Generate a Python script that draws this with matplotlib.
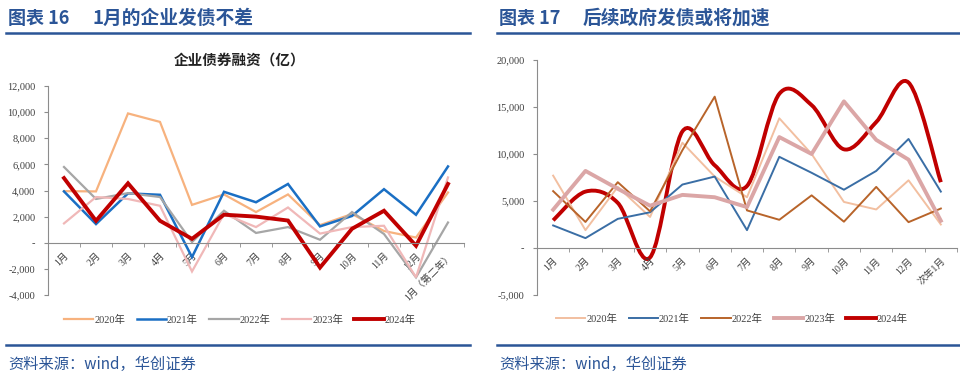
import numpy as np
import matplotlib.pyplot as plt
from matplotlib.lines import Line2D
from matplotlib.path import Path
from matplotlib.patches import PathPatch

# ---- data: chart 16 (corporate bond financing, 100m yuan) ----
left_months = ["1月", "2月", "3月", "4月", "5月", "6月", "7月", "8月",
               "9月", "10月", "11月", "12月", "1月（第二年）"]
left_2020 = [3950, 3930, 9900, 9250, 2900, 3700, 2350, 3700, 1350, 2200, 900, 400, 3850]
left_2021 = [3930, 1430, 3780, 3670, -1100, 3900, 3100, 4500, 1250, 2050, 4100, 2140, 5840]
left_2022 = [5800, 3350, 3800, 3500, 50, 2450, 750, 1200, 230, 2350, 670, -2650, 1550]
left_2023 = [1480, 3500, 3350, 2830, -2200, 2200, 1200, 2700, 700, 1200, 1300, -2650, 5000]
left_2024 = [4950, 1680, 4550, 1680, 300, 2150, 2000, 1700, -1900, 1070, 2450, -230, 4500]

# ---- data: chart 17 (government bond financing) ----
right_months = ["1月", "2月", "3月", "4月", "5月", "6月", "7月", "8月",
                "9月", "10月", "11月", "12月", "次年1月"]
right_2020 = [7700, 1900, 6500, 3300, 11200, 7600, 5400, 13800, 10000, 4900, 4100, 7200, 2500]
right_2021 = [2400, 1050, 3100, 3800, 6750, 7600, 1900, 9700, 8000, 6200, 8200, 11600, 6000]
right_2022 = [6050, 2770, 7000, 3900, 10400, 16100, 4000, 3000, 5600, 2800, 6500, 2750, 4200]
right_2023 = [4080, 8200, 6300, 4500, 5650, 5400, 4350, 11800, 10000, 15600, 11500, 9400, 2900]
right_2024 = [2940, 6000, 4800, -1000, 12400, 8800, 6600, 16400, 15200, 10500, 13400, 17600, 7000]

years = ["2020年", "2021年", "2022年", "2023年", "2024年"]

BLUE = "#2b5597"
AXIS = "#8c8c8c"
TXT = "#404040"
CJK = ["Liberation Serif", "Noto Sans CJK SC"]


def smooth_path(xs, ys):
    """Excel-like smoothed line as cubic bezier path"""
    xs = np.asarray(xs, float)
    ys = np.asarray(ys, float)
    n = len(xs)
    verts = [(xs[0], ys[0])]
    codes = [Path.MOVETO]
    for i in range(n - 1):
        p0 = i - 1 if i > 0 else i
        p3 = i + 2 if i + 2 < n else i + 1
        c1 = (xs[i] + (xs[i + 1] - xs[p0]) / 6, ys[i] + (ys[i + 1] - ys[p0]) / 6)
        c2 = (xs[i + 1] - (xs[p3] - xs[i]) / 6, ys[i + 1] - (ys[p3] - ys[i]) / 6)
        verts += [c1, c2, (xs[i + 1], ys[i + 1])]
        codes += [Path.CURVE4] * 3
    return Path(verts, codes)


def fmt(v):
    return "-" if v == 0 else f"{v:,.0f}"


def style_axes(ax, labels, yticks, ylim):
    n = len(labels)
    ax.set_xlim(-0.5, n - 0.5)
    ax.set_ylim(*ylim)
    for s in ["top", "right"]:
        ax.spines[s].set_visible(False)
    ax.spines["bottom"].set_position(("data", 0))
    ax.spines["bottom"].set_color(AXIS)
    ax.spines["left"].set_color(AXIS)
    ax.set_yticks(yticks)
    ax.set_yticklabels([fmt(v) for v in yticks], family="Liberation Serif",
                       fontsize=7.5, color=TXT)
    ax.tick_params(axis="y", length=3, color=AXIS, pad=6)
    ax.set_xticks(range(n))
    ax.set_xticklabels(labels, rotation=45, ha="right", va="top",
                       rotation_mode="anchor", family=CJK, fontsize=7, color=TXT)
    ax.set_xticks(np.arange(-0.5, n, 1), minor=True)
    ax.tick_params(axis="x", which="major", length=0, pad=6)
    ax.tick_params(axis="x", which="minor", length=3, color=AXIS)
    ax.set_facecolor("none")


def panel_frame(fig, x0, x1, tag, title):
    y = 1 - 18 / 386
    fig.text(x0 + 0.002, y, tag, family=["Noto Sans CJK SC"],
             fontweight="bold", fontsize=13, color=BLUE, va="center")
    fig.text(x0 + 86 / 960, y, title, family=["Noto Sans CJK SC"],
             fontweight="bold", fontsize=13.5, color=BLUE, va="center")
    for yy in [1 - 33 / 386, 1 - 345 / 386]:
        fig.add_artist(Line2D([x0, x1], [yy, yy], color=BLUE, lw=1.8))
    fig.text(x0 + 0.002, 1 - 364 / 386, "资料来源：wind，华创证券",
             family=["Noto Sans CJK SC"], fontsize=11, color=BLUE, va="center")


def plot():
    fig = plt.figure(figsize=(9.6, 3.86), dpi=100)

    # ---------- left chart ----------
    panel_frame(fig, 6 / 960, 470 / 960, "图表 16", "1月的企业发债不差")
    fig.text(240 / 960, 1 - 60 / 386, "企业债券融资（亿）", family=["Noto Sans CJK SC"],
             fontweight="bold", fontsize=10.5, color="#222222", ha="center", va="center")
    ax1 = fig.add_axes([48 / 960, 1 - 295 / 386, 416 / 960, 209 / 386])
    x = np.arange(len(left_months))
    colors1 = ["#f7b27e", "#1a6fc4", "#a6a6a6", "#f0b8b8", "#c00000"]
    widths1 = [1.6, 1.8, 1.6, 1.6, 2.8]
    series1 = [left_2020, left_2021, left_2022, left_2023, left_2024]
    for ys, c, w, lab in zip(series1, colors1, widths1, years):
        ax1.plot(x, ys, color=c, lw=w, label=lab, solid_joinstyle="miter")
    style_axes(ax1, left_months, range(-4000, 12001, 2000), (-4000, 12000))
    ax1.legend(loc="center", bbox_to_anchor=(240 / 960, 1 - 320 / 386),
               bbox_transform=fig.transFigure, ncol=5, frameon=False,
               prop={"family": CJK, "size": 7.5}, handlelength=2.8,
               columnspacing=1.1, handletextpad=0.1, labelcolor=TXT)

    # ---------- right chart ----------
    panel_frame(fig, 497 / 960, 1.0, "图表 17", "后续政府发债或将加速")
    ax2 = fig.add_axes([537 / 960, 1 - 295 / 386, 420 / 960, 235 / 386])
    x = np.arange(len(right_months))
    colors2 = ["#f2bfa0", "#3a6ea5", "#b8642a", "#dba6a6", "#c00000"]
    widths2 = [1.4, 1.4, 1.4, 2.8, 2.8]
    series2 = [right_2020, right_2021, right_2022, right_2023]
    for ys, c, w, lab in zip(series2, colors2[:4], widths2[:4], years[:4]):
        ax2.plot(x, ys, color=c, lw=w, label=lab)
    path = smooth_path(x, right_2024)
    ax2.add_patch(PathPatch(path, fill=False, edgecolor=colors2[4], lw=widths2[4]))
    ax2.plot([], [], color=colors2[4], lw=widths2[4], label=years[4])
    style_axes(ax2, right_months, range(-5000, 20001, 5000), (-5000, 20000))
    ax2.legend(loc="center", bbox_to_anchor=(732 / 960, 1 - 319 / 386),
               bbox_transform=fig.transFigure, ncol=5, frameon=False,
               prop={"family": CJK, "size": 7.5}, handlelength=2.8,
               columnspacing=1.1, handletextpad=0.1, labelcolor=TXT)

    fig.savefig("out.png", dpi=100)


if __name__ == "__main__":
    plot()
